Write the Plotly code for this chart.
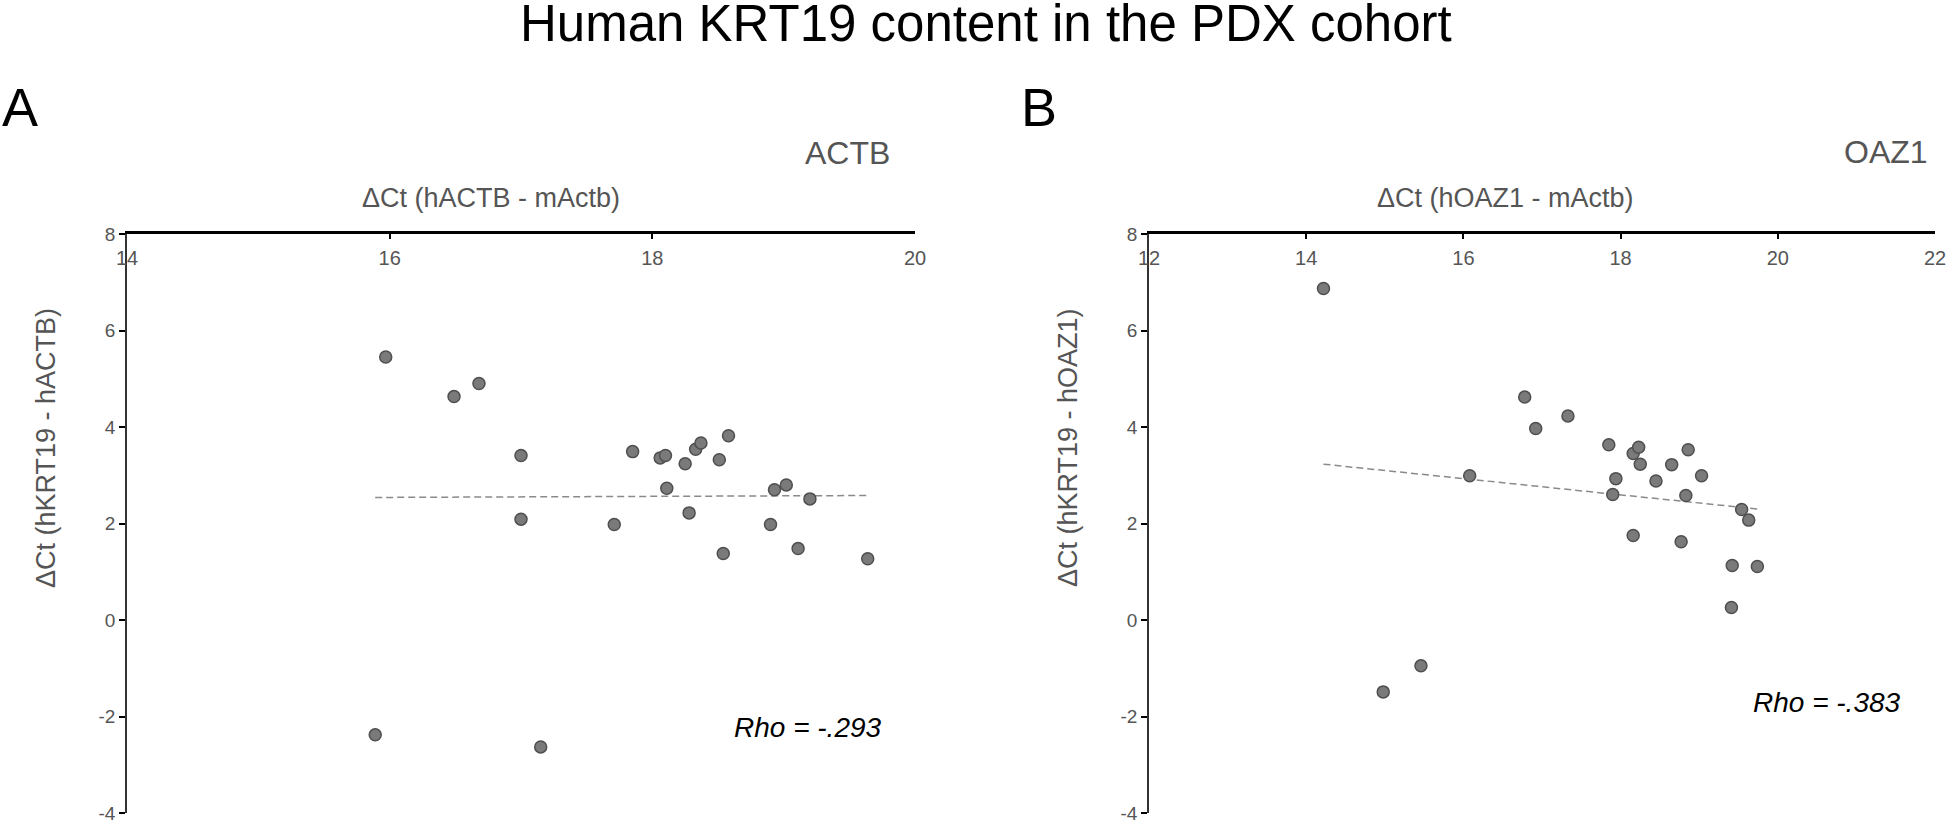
import plotly.graph_objects as go

# data
actb_x = [15.97, 16.49, 16.68, 17.00, 17.00, 17.71, 17.85, 18.06, 18.10, 18.11, 18.25, 18.28, 18.33,
          18.37, 18.51, 18.58, 18.54, 18.93, 19.02, 18.90, 19.20, 19.11, 19.64, 15.89, 17.15]
actb_y = [5.45, 4.63, 4.90, 3.41, 2.09, 1.98, 3.49, 3.36, 3.41, 2.73, 3.24, 2.22, 3.54,
          3.67, 3.32, 3.82, 1.38, 2.70, 2.80, 1.98, 2.51, 1.48, 1.27, -2.38, -2.63]
actb_fit_x = [15.89, 19.64]
actb_fit_y = [2.54, 2.58]

oaz1_x = [14.22, 16.78, 16.92, 17.33, 16.08, 17.85, 17.94, 17.90, 18.16, 18.23, 18.25, 18.45, 18.65,
          18.86, 18.83, 19.03, 19.54, 19.63, 18.16, 18.77, 19.42, 19.74, 19.41, 14.98, 15.46]
oaz1_y = [6.87, 4.62, 3.97, 4.23, 2.99, 3.63, 2.93, 2.60, 3.45, 3.58, 3.23, 2.88, 3.22,
          3.53, 2.58, 2.99, 2.29, 2.07, 1.75, 1.62, 1.13, 1.11, 0.26, -1.49, -0.95]
oaz1_fit_x = [14.22, 19.74]
oaz1_fit_y = [3.23, 2.30]

y_ticks = [-4, -2, 0, 2, 4, 6, 8]
y_ticktext = ["-4", "-2", "0", "2", "4", "6", "8"]

W, H = 1946, 820
FONT = "Liberation Sans, Arial, sans-serif"
GREY = "#555555"


def px(x):
    return x / W


def py(y):
    return 1 - y / H


fig = go.Figure()

marker = dict(size=12, color="#7a7a7a", line=dict(color="#4f4f4f", width=1.5))
fitline = dict(color="#8a8a8a", width=1.5, dash="7px,4px")

fig.add_trace(go.Scatter(x=actb_fit_x, y=actb_fit_y, mode="lines", line=fitline, xaxis="x", yaxis="y"))
fig.add_trace(go.Scatter(x=actb_x, y=actb_y, mode="markers", marker=marker, xaxis="x", yaxis="y"))
fig.add_trace(go.Scatter(x=oaz1_fit_x, y=oaz1_fit_y, mode="lines", line=fitline, xaxis="x2", yaxis="y2"))
fig.add_trace(go.Scatter(x=oaz1_x, y=oaz1_y, mode="markers", marker=marker, xaxis="x2", yaxis="y2"))

ydom = [py(813), py(234)]
xax = dict(side="top", showline=True, linecolor="black", linewidth=2.5, ticks="inside", ticklen=5,
           tickcolor="black", tickwidth=1.5, dtick=2, ticklabelposition="inside", ticklabeloverflow="allow",
           ticklabelstandoff=13, automargin=False,
           tickfont=dict(size=20, color=GREY, family=FONT), showgrid=False, zeroline=False)
yax = dict(range=[-4, 8], tickvals=y_ticks, ticktext=y_ticktext, showline=True, linecolor="#333333",
           linewidth=1.5, ticks="outside", ticklen=6, tickcolor="black", tickwidth=1.5,
           ticklabeloverflow="allow", automargin=False, tickfont=dict(size=19, color=GREY, family=FONT),
           showgrid=False, zeroline=False, domain=ydom)

fig.update_layout(
    width=W, height=H, margin=dict(l=0, r=0, t=0, b=0, autoexpand=False),
    plot_bgcolor="white", paper_bgcolor="white", showlegend=False,
    font=dict(family=FONT),
    xaxis=dict(xax, domain=[px(127), px(915)], range=[14, 20], anchor="y"),
    yaxis=dict(yax, anchor="x"),
    xaxis2=dict(xax, domain=[px(1149), px(1935)], range=[12, 22], anchor="y2"),
    yaxis2=dict(yax, anchor="x2"),
)

ann = []
ann.append(dict(text="Human KRT19 content in the PDX cohort", x=px(986), y=py(23), xanchor="center",
                yanchor="middle", font=dict(size=51, color="black")))
ann.append(dict(text="A", x=px(0), y=py(107), xanchor="left", yanchor="middle", font=dict(size=54, color="black")))
ann.append(dict(text="B", x=px(1019), y=py(107), xanchor="left", yanchor="middle", font=dict(size=54, color="black")))
ann.append(dict(text="ACTB", x=px(892), y=py(153), xanchor="right", yanchor="middle", font=dict(size=32, color=GREY)))
ann.append(dict(text="OAZ1", x=px(1930), y=py(152), xanchor="right", yanchor="middle", font=dict(size=32, color=GREY)))
ann.append(dict(text="ΔCt (hACTB - mActb)", x=px(491), y=py(198), xanchor="center", yanchor="middle",
                font=dict(size=27, color=GREY)))
ann.append(dict(text="ΔCt (hOAZ1 - mActb)", x=px(1505), y=py(198), xanchor="center", yanchor="middle",
                font=dict(size=27, color=GREY)))
ann.append(dict(text="ΔCt (hKRT19 - hACTB)", x=px(46), y=py(448), xanchor="center", yanchor="middle",
                textangle=-90, font=dict(size=27, color=GREY)))
ann.append(dict(text="ΔCt (hKRT19 - hOAZ1)", x=px(1068), y=py(448), xanchor="center", yanchor="middle",
                textangle=-90, font=dict(size=27, color=GREY)))
ann.append(dict(text="<i>Rho = -.293</i>", x=px(732), y=py(727), xanchor="left", yanchor="middle",
                font=dict(size=28, color="black")))
ann.append(dict(text="<i>Rho = -.383</i>", x=px(1751), y=py(702), xanchor="left", yanchor="middle",
                font=dict(size=28, color="black")))
for a in ann:
    a.update(xref="paper", yref="paper", showarrow=False)
fig.update_layout(annotations=ann)

# drop the default page margin so the figure sits at the window's top-left corner
fig.write_html("out.html", config={"displayModeBar": False},
               post_script="document.body.style.margin='0';")
